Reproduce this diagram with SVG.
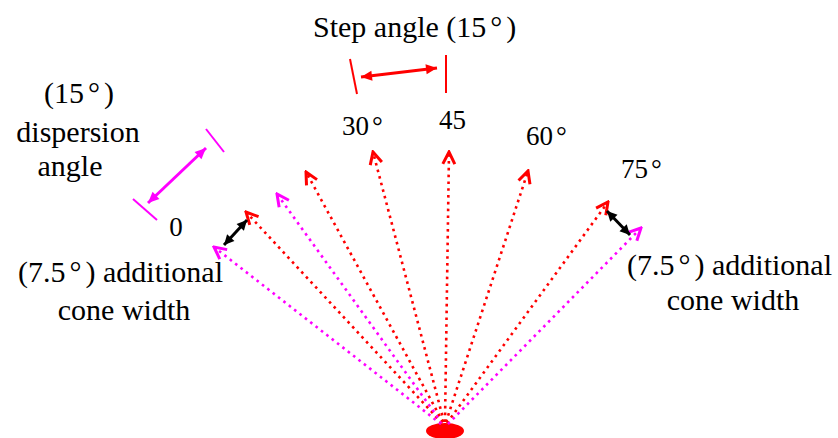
<svg xmlns="http://www.w3.org/2000/svg" width="838" height="438" viewBox="0 0 838 438">
<style>
text{font-family:'Liberation Serif','Times New Roman',Tinos,'DejaVu Serif','Noto Serif',serif;font-size:30px;fill:#000}
.num{font-size:27px}
.ray{fill:none;stroke-width:2.6;stroke-dasharray:2.6 4.2}
.red{stroke:#ff0000}
.mag{stroke:#ff00ff}
.tick{stroke-width:2;fill:none}
.dbl{stroke-width:3;fill:none}
</style>
<defs>
<marker id="vR" viewBox="-14 -8 16 16" markerWidth="16" markerHeight="16" refX="0" refY="0" orient="auto" markerUnits="userSpaceOnUse">
<path d="M-12,-6 L0,0 L-12,6" fill="none" stroke="#ff0000" stroke-width="3"/>
</marker>
<marker id="vM" viewBox="-14 -8 16 16" markerWidth="16" markerHeight="16" refX="0" refY="0" orient="auto" markerUnits="userSpaceOnUse">
<path d="M-12,-6 L0,0 L-12,6" fill="none" stroke="#ff00ff" stroke-width="3"/>
</marker>
<marker id="fR" viewBox="-12 -6 13 12" markerWidth="13" markerHeight="12" refX="0" refY="0" orient="auto-start-reverse" markerUnits="userSpaceOnUse">
<path d="M-11,-5 L0,0 L-11,5 Z" fill="#ff0000"/>
</marker>
<marker id="fM" viewBox="-12 -6 13 12" markerWidth="13" markerHeight="12" refX="0" refY="0" orient="auto-start-reverse" markerUnits="userSpaceOnUse">
<path d="M-11,-5 L0,0 L-11,5 Z" fill="#ff00ff"/>
</marker>
<marker id="fK" viewBox="-12 -6 13 12" markerWidth="13" markerHeight="12" refX="0" refY="0" orient="auto-start-reverse" markerUnits="userSpaceOnUse">
<path d="M-10,-5 L0,0 L-10,5 Z" fill="#000"/>
</marker>
</defs>

<g id="source">
<ellipse cx="445" cy="431" rx="19" ry="8" fill="#ff0000"/>
</g>

<g id="connectors">
<line class="ray mag" x1="441" y1="424" x2="214" y2="247" marker-end="url(#vM)"/>
<line class="ray red" x1="442" y1="423" x2="246" y2="212" marker-end="url(#vR)"/>
<line class="ray mag" x1="442" y1="423" x2="277" y2="194" marker-end="url(#vM)"/>
<line class="ray red" x1="443" y1="422" x2="306" y2="172" marker-end="url(#vR)"/>
<line class="ray red" x1="444" y1="422" x2="373" y2="152" marker-end="url(#vR)"/>
<line class="ray red" x1="445" y1="422" x2="449" y2="152" marker-end="url(#vR)"/>
<line class="ray red" x1="446" y1="422" x2="528" y2="171" marker-end="url(#vR)"/>
<line class="ray red" x1="447" y1="423" x2="608" y2="202" marker-end="url(#vR)"/>
<line class="ray mag" x1="448" y1="424" x2="641" y2="228" marker-end="url(#vM)"/>

<line class="dbl" stroke="#000" stroke-width="2.5" x1="224" y1="245" x2="247" y2="220" marker-start="url(#fK)" marker-end="url(#fK)"/>
<line class="dbl" stroke="#000" stroke-width="2.5" x1="607" y1="211" x2="630" y2="235" marker-start="url(#fK)" marker-end="url(#fK)"/>

<line class="tick red" x1="350" y1="59" x2="357" y2="94"/>
<line class="tick red" x1="446" y1="55" x2="446" y2="93"/>
<line class="dbl red" x1="361" y1="77" x2="437" y2="68" marker-start="url(#fR)" marker-end="url(#fR)"/>

<line class="tick mag" x1="206" y1="129" x2="224" y2="152"/>
<line class="tick mag" x1="133" y1="199" x2="157" y2="220"/>
<line class="dbl mag" x1="148" y1="203" x2="206" y2="148" marker-start="url(#fM)" marker-end="url(#fM)"/>
</g>

<g id="label-step">
<text x="313" y="37">Step angle (15<tspan dx="4">°</tspan><tspan dx="4">)</tspan></text>
</g>
<g id="label-dispersion">
<text x="79" y="103" text-anchor="middle">(15<tspan dx="4">°</tspan><tspan dx="4">)</tspan></text>
<text x="78" y="142" text-anchor="middle">dispersion</text>
<text x="70" y="176" text-anchor="middle">angle</text>
</g>
<g id="label-angles">
<text class="num" x="176" y="236" text-anchor="middle">0</text>
<text class="num" x="342" y="135">30<tspan dx="3">°</tspan></text>
<text class="num" x="439" y="129">45</text>
<text class="num" x="526" y="145">60<tspan dx="3">°</tspan></text>
<text class="num" x="621" y="178">75<tspan dx="3">°</tspan></text>
</g>
<g id="label-cone-left">
<text x="18" y="282">(7.5<tspan dx="4">°</tspan><tspan dx="4">)</tspan> additional</text>
<text x="124" y="320" text-anchor="middle">cone width</text>
</g>
<g id="label-cone-right">
<text x="627" y="275">(7.5<tspan dx="4">°</tspan><tspan dx="4">)</tspan> additional</text>
<text x="733" y="310" text-anchor="middle">cone width</text>
</g>
</svg>
